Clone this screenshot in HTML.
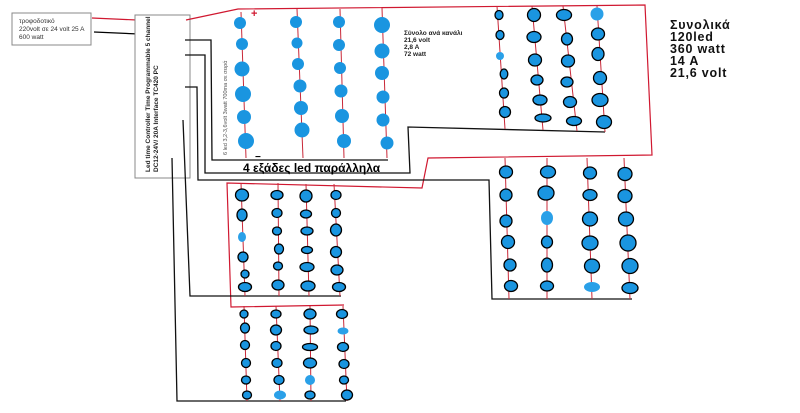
<!DOCTYPE html>
<html><head><meta charset="utf-8"><style>
html,body{margin:0;padding:0;background:#fff;width:800px;height:413px;overflow:hidden}
svg{display:block}
text{font-family:"Liberation Sans",sans-serif}
</style></head><body>
<svg width="800" height="413" viewBox="0 0 800 413" xmlns="http://www.w3.org/2000/svg">
<rect x="12" y="13" width="79" height="32" fill="#fff" stroke="#888" stroke-width="1"/>
<text x="19" y="23" font-size="6.5" fill="#333">τροφοδοτικό</text>
<text x="19" y="31" font-size="6.5" fill="#333">220volt σε 24 volt 25 A</text>
<text x="19" y="39" font-size="6.5" fill="#333">600 watt</text>
<line x1="92" y1="18" x2="137" y2="20" stroke="#d01830" stroke-width="1.2"/>
<line x1="94" y1="32" x2="139" y2="34" stroke="#000" stroke-width="1.2"/>
<rect x="135" y="15" width="55" height="163" fill="#fff" stroke="#888" stroke-width="1"/>
<text transform="translate(150,172) rotate(-90)" font-size="6.5" font-weight="bold" fill="#222">Led time Controller Time Programmable 5 channel</text>
<text transform="translate(158,172) rotate(-90)" font-size="6.5" font-weight="bold" fill="#222">DC12-24V/ 20A Interface TC420 PC</text>
<polyline points="186,20 238,9 645,5 652,155 428,158 422,188 227,183 231,307 344,305" fill="none" stroke="#d01830" stroke-width="1.2"/>
<g fill="none" stroke="#111" stroke-width="1.3">
<polyline points="185,40 211,40 212,160 388,160"/>
<polyline points="185,55 205,55 205,173 410,173 408,127 605,132"/>
<polyline points="185,87 197,87 198,180 489,180 492,299 632,299"/>
<polyline points="183,120 190,296 341,296"/>
<polyline points="172,158 177,401 346,401"/>
</g>
<text x="251" y="17" font-size="11" font-weight="bold" fill="#d01830">+</text>
<text x="255" y="160" font-size="10" font-weight="bold" fill="#000">−</text>
<text x="243" y="172" font-size="12" font-weight="bold" fill="#000">4 εξάδες led παράλληλα</text>
<text transform="translate(227,155) rotate(-90)" font-size="5.5" fill="#555">6 led 3,2-3,6volt 3watt 700ma σε σειρά</text>
<text x="404" y="35" font-size="6.5" font-weight="bold" fill="#222">Σύνολο ανά κανάλι</text>
<text x="404" y="42" font-size="6.5" font-weight="bold" fill="#222">21,6 volt</text>
<text x="404" y="49" font-size="6.5" font-weight="bold" fill="#222">2,8 A</text>
<text x="404" y="56" font-size="6.5" font-weight="bold" fill="#222">72 watt</text>
<g font-size="12.5" font-weight="bold" fill="#111" letter-spacing="0.8">
<text x="670" y="29">Συνολικά</text><text x="670" y="41">120led</text><text x="670" y="53">360 watt</text><text x="670" y="65">14 A</text><text x="670" y="77">21,6 volt</text>
</g>
<g stroke="#c82838" stroke-width="1">
<line x1="241" y1="12" x2="246" y2="158"/><line x1="297" y1="9" x2="303" y2="158"/><line x1="340" y1="9" x2="344" y2="158"/><line x1="382" y1="8" x2="387" y2="158"/>
<line x1="497" y1="6" x2="505" y2="129"/><line x1="532" y1="6" x2="543" y2="130"/><line x1="563" y1="6" x2="577" y2="131"/><line x1="597" y1="6" x2="605" y2="132"/>
<line x1="505" y1="158" x2="509" y2="299"/><line x1="547" y1="158" x2="547" y2="299"/><line x1="587" y1="158" x2="592" y2="299"/><line x1="624" y1="158" x2="630" y2="299"/>
<line x1="241" y1="183" x2="245" y2="296"/><line x1="278" y1="183" x2="279" y2="296"/><line x1="306" y1="184" x2="309" y2="296"/><line x1="334" y1="184" x2="340" y2="296"/>
<line x1="244" y1="306" x2="247" y2="401"/><line x1="276" y1="306" x2="280" y2="401"/><line x1="310" y1="306" x2="311" y2="401"/><line x1="343" y1="306" x2="347" y2="401"/>
</g>
<g fill="#1a95e0">
<circle cx="240" cy="23" r="6"/><circle cx="242" cy="44" r="6"/><circle cx="242" cy="69" r="7.5"/><circle cx="243" cy="94" r="8"/><circle cx="244" cy="117" r="7"/><circle cx="246" cy="141" r="8"/>
<circle cx="296" cy="22" r="6"/><circle cx="297" cy="43" r="5.5"/><circle cx="298" cy="64" r="6"/><circle cx="300" cy="86" r="6.5"/><circle cx="301" cy="108" r="7"/><circle cx="302" cy="130" r="7.5"/>
<circle cx="339" cy="22" r="6"/><circle cx="339" cy="45" r="6"/><circle cx="340" cy="68" r="6"/><circle cx="341" cy="91" r="6.5"/><circle cx="342" cy="116" r="7"/><circle cx="344" cy="141" r="7"/>
<circle cx="382" cy="25" r="8"/><circle cx="382" cy="51" r="7.5"/><circle cx="382" cy="73" r="7"/><circle cx="383" cy="97" r="6.5"/><circle cx="383" cy="120" r="6.5"/><circle cx="387" cy="143" r="6.5"/>
</g>
<g fill="#1a95e0" stroke="#000" stroke-width="1.3">
<ellipse cx="499" cy="15" rx="4" ry="4.5"/><ellipse cx="500" cy="35" rx="4" ry="4.5"/><ellipse cx="504" cy="74" rx="3.8" ry="5"/><ellipse cx="504" cy="93" rx="4.5" ry="5"/><ellipse cx="505" cy="112" rx="5.5" ry="5.5"/>
<ellipse cx="534" cy="15" rx="6.5" ry="6.5"/><ellipse cx="534" cy="37" rx="7" ry="5.5"/><ellipse cx="535" cy="60" rx="6.5" ry="6"/><ellipse cx="537" cy="80" rx="6" ry="5"/><ellipse cx="540" cy="100" rx="7" ry="5"/><ellipse cx="543" cy="118" rx="8" ry="4"/>
<ellipse cx="564" cy="15" rx="7.5" ry="5.5"/><ellipse cx="567" cy="39" rx="5.5" ry="6"/><ellipse cx="568" cy="61" rx="6.5" ry="6"/><ellipse cx="567" cy="82" rx="6" ry="5"/><ellipse cx="570" cy="102" rx="6.5" ry="5.5"/><ellipse cx="574" cy="121" rx="7.5" ry="4.5"/>
<ellipse cx="598" cy="34" rx="6.5" ry="6"/><ellipse cx="598" cy="54" rx="6" ry="6.5"/><ellipse cx="600" cy="78" rx="6.5" ry="6.5"/><ellipse cx="600" cy="100" rx="8" ry="6.5"/><ellipse cx="604" cy="122" rx="7.5" ry="6.5"/>
<ellipse cx="506" cy="172" rx="6.5" ry="6"/><ellipse cx="506" cy="195" rx="6" ry="6"/><ellipse cx="506" cy="221" rx="6" ry="6"/><ellipse cx="508" cy="242" rx="6.5" ry="6.5"/><ellipse cx="510" cy="265" rx="6" ry="6"/><ellipse cx="511" cy="286" rx="6.5" ry="5.5"/>
<ellipse cx="548" cy="172" rx="7.5" ry="6"/><ellipse cx="546" cy="193" rx="8" ry="7"/><ellipse cx="547" cy="242" rx="5.5" ry="6"/><ellipse cx="547" cy="265" rx="5.5" ry="7"/><ellipse cx="547" cy="286" rx="6.5" ry="5"/>
<ellipse cx="590" cy="173" rx="6.5" ry="6"/><ellipse cx="590" cy="195" rx="7" ry="5.5"/><ellipse cx="590" cy="219" rx="7.5" ry="7"/><ellipse cx="590" cy="243" rx="8" ry="7"/><ellipse cx="592" cy="266" rx="7.5" ry="7"/>
<ellipse cx="625" cy="174" rx="7" ry="6.5"/><ellipse cx="625" cy="196" rx="7" ry="6.5"/><ellipse cx="626" cy="219" rx="7.5" ry="7"/><ellipse cx="628" cy="243" rx="8" ry="8"/><ellipse cx="630" cy="266" rx="8" ry="7.5"/><ellipse cx="630" cy="288" rx="8" ry="5.5"/>
<ellipse cx="242" cy="195" rx="6.5" ry="6"/><ellipse cx="242" cy="215" rx="5" ry="6"/><ellipse cx="243" cy="257" rx="5" ry="5"/><ellipse cx="245" cy="274" rx="4" ry="4"/><ellipse cx="245" cy="287" rx="6.5" ry="4.5"/>
<ellipse cx="277" cy="195" rx="6" ry="4.5"/><ellipse cx="277" cy="213" rx="5" ry="4.5"/><ellipse cx="277" cy="231" rx="4.5" ry="4"/><ellipse cx="279" cy="249" rx="4.5" ry="5"/><ellipse cx="278" cy="266" rx="4.5" ry="4"/><ellipse cx="278" cy="285" rx="6" ry="5"/>
<ellipse cx="306" cy="196" rx="6" ry="6"/><ellipse cx="306" cy="214" rx="5.5" ry="4"/><ellipse cx="307" cy="231" rx="6" ry="4"/><ellipse cx="307" cy="250" rx="5.5" ry="3.5"/><ellipse cx="307" cy="267" rx="7" ry="4.5"/><ellipse cx="308" cy="286" rx="7" ry="5"/>
<ellipse cx="336" cy="195" rx="5" ry="4.5"/><ellipse cx="336" cy="213" rx="4.5" ry="4.5"/><ellipse cx="336" cy="230" rx="5.5" ry="6"/><ellipse cx="336" cy="252" rx="5.5" ry="5.5"/><ellipse cx="337" cy="270" rx="6" ry="5"/><ellipse cx="339" cy="287" rx="6.5" ry="4.5"/>
<ellipse cx="244" cy="314" rx="4" ry="4"/><ellipse cx="245" cy="328" rx="4.5" ry="5"/><ellipse cx="245" cy="345" rx="4.5" ry="4.5"/><ellipse cx="246" cy="363" rx="4.5" ry="4.5"/><ellipse cx="246" cy="380" rx="4.5" ry="4"/><ellipse cx="247" cy="395" rx="4.5" ry="4"/>
<ellipse cx="276" cy="314" rx="5" ry="4"/><ellipse cx="276" cy="330" rx="5.5" ry="5"/><ellipse cx="276" cy="346" rx="5" ry="4.5"/><ellipse cx="277" cy="363" rx="5" ry="4.5"/><ellipse cx="279" cy="380" rx="5" ry="4.5"/>
<ellipse cx="310" cy="314" rx="6" ry="5"/><ellipse cx="311" cy="330" rx="7" ry="4"/><ellipse cx="310" cy="347" rx="7.5" ry="3.5"/><ellipse cx="310" cy="363" rx="6.5" ry="5"/><ellipse cx="310" cy="395" rx="5" ry="4"/>
<ellipse cx="342" cy="314" rx="5.5" ry="4.5"/><ellipse cx="343" cy="347" rx="5.5" ry="4.5"/><ellipse cx="344" cy="364" rx="5" ry="4.5"/><ellipse cx="344" cy="380" rx="4.5" ry="4"/><ellipse cx="347" cy="395" rx="5.5" ry="5"/>
</g>
<g fill="#2aa0e8">
<circle cx="597" cy="14" r="6.5"/><circle cx="500" cy="56" r="4"/><ellipse cx="547" cy="218" rx="6" ry="7"/><ellipse cx="592" cy="287" rx="8" ry="5"/>
<ellipse cx="242" cy="237" rx="4" ry="5"/><ellipse cx="343" cy="331" rx="5.5" ry="3.5"/><ellipse cx="310" cy="380" rx="5" ry="5"/><ellipse cx="280" cy="395" rx="6" ry="4.5"/>
</g>
</svg>
</body></html>
